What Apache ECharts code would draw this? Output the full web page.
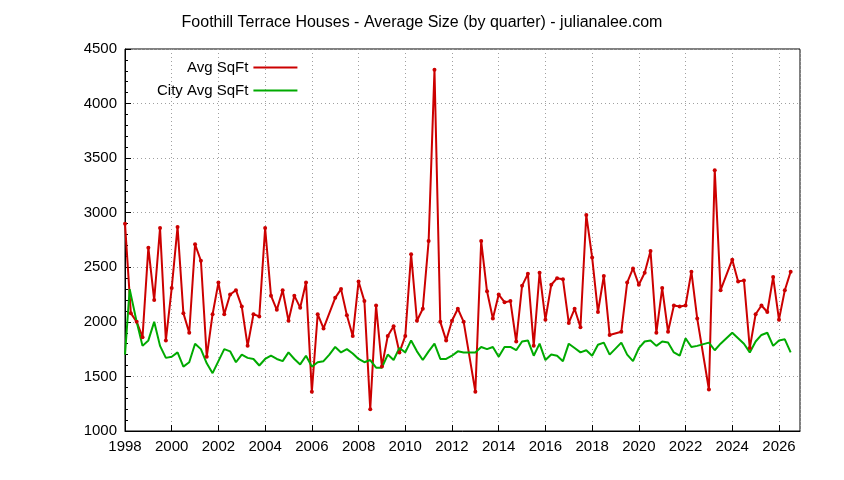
<!DOCTYPE html>
<html>
<head>
<meta charset="utf-8">
<title>Foothill Terrace Houses</title>
<script src="https://cdn.jsdelivr.net/npm/echarts@6/dist/echarts.min.js"></script>
<style>html,body{margin:0;background:#fff}#chart{width:844px;height:480px}</style>
</head>
<body>
<div id="chart"></div>
<script>
var avgSqft = [
[1998.0,2900],[1998.25,2080],[1998.5,2000],[1998.75,1860],[1999.0,2680],[1999.25,2200],[1999.5,2860],[1999.75,1830],
[2000.0,2310],[2000.25,2870],[2000.5,2080],[2000.75,1900],[2001.0,2710],[2001.25,2560],[2001.5,1680],[2001.75,2070],
[2002.0,2360],[2002.25,2070],[2002.5,2250],[2002.75,2290],[2003.0,2140],[2003.25,1780],[2003.5,2070],[2003.75,2050],
[2004.0,2860],[2004.25,2240],[2004.5,2110],[2004.75,2290],[2005.0,2010],[2005.25,2240],[2005.5,2130],[2005.75,2360],
[2006.0,1360],[2006.25,2070],[2006.5,1940],[2007.0,2220],[2007.25,2300],[2007.5,2060],[2007.75,1870],
[2008.0,2370],[2008.25,2190],[2008.5,1200],[2008.75,2150],[2009.0,1590],[2009.25,1870],[2009.5,1960],[2009.75,1720],
[2010.0,1870],[2010.25,2620],[2010.5,2010],[2010.75,2120],[2011.0,2740],[2011.25,4310],[2011.5,2000],[2011.75,1830],
[2012.0,2010],[2012.25,2120],[2012.5,2000],[2013.0,1360],[2013.25,2740],[2013.5,2280],[2013.75,2030],
[2014.0,2250],[2014.25,2180],[2014.5,2190],[2014.75,1820],[2015.0,2330],[2015.25,2440],[2015.5,1780],[2015.75,2450],
[2016.0,2020],[2016.25,2340],[2016.5,2400],[2016.75,2390],[2017.0,1990],[2017.25,2120],[2017.5,1950],[2017.75,2980],
[2018.0,2590],[2018.25,2090],[2018.5,2420],[2018.75,1880],[2019.25,1910],[2019.5,2360],[2019.75,2490],
[2020.0,2340],[2020.25,2450],[2020.5,2650],[2020.75,1900],[2021.0,2310],[2021.25,1910],[2021.5,2150],[2021.75,2140],
[2022.0,2150],[2022.25,2460],[2022.5,2030],[2023.0,1380],[2023.25,3390],[2023.5,2290],
[2024.0,2570],[2024.25,2370],[2024.5,2380],[2024.75,1760],[2025.0,2070],[2025.25,2150],[2025.5,2090],[2025.75,2410],
[2026.0,2020],[2026.25,2290],[2026.5,2460]
];
var cityAvgSqft = [
[1998.0,1700],[1998.2,2300],[1998.5,2000],[1998.75,1780],[1999.0,1830],[1999.25,2000],[1999.5,1780],[1999.75,1670],
[2000.0,1680],[2000.25,1720],[2000.5,1590],[2000.75,1630],[2001.0,1800],[2001.25,1750],[2001.5,1620],[2001.75,1530],
[2002.0,1640],[2002.25,1750],[2002.5,1730],[2002.75,1630],[2003.0,1700],[2003.25,1670],[2003.5,1660],[2003.75,1600],
[2004.0,1660],[2004.25,1690],[2004.5,1660],[2004.75,1640],[2005.0,1720],[2005.25,1660],[2005.5,1610],[2005.75,1690],
[2006.0,1590],[2006.25,1630],[2006.5,1640],[2006.75,1700],[2007.0,1770],[2007.25,1720],[2007.5,1750],[2007.75,1710],
[2008.0,1660],[2008.25,1630],[2008.5,1650],[2008.75,1580],[2009.0,1580],[2009.25,1700],[2009.5,1650],[2009.75,1760],
[2010.0,1720],[2010.25,1830],[2010.5,1730],[2010.75,1650],[2011.0,1730],[2011.25,1800],[2011.5,1660],[2011.75,1660],
[2012.0,1690],[2012.25,1730],[2012.5,1720],[2013.0,1720],[2013.25,1770],[2013.5,1750],[2013.75,1770],
[2014.0,1680],[2014.25,1770],[2014.5,1770],[2014.75,1740],[2015.0,1820],[2015.25,1830],[2015.5,1690],[2015.75,1800],
[2016.0,1650],[2016.25,1700],[2016.5,1690],[2016.75,1640],[2017.0,1800],[2017.25,1760],[2017.5,1720],[2017.75,1740],
[2018.0,1690],[2018.25,1790],[2018.5,1810],[2018.75,1700],[2019.25,1810],[2019.5,1700],[2019.75,1640],
[2020.0,1760],[2020.25,1820],[2020.5,1830],[2020.75,1780],[2021.0,1820],[2021.25,1810],[2021.5,1720],[2021.75,1690],
[2022.0,1850],[2022.25,1770],[2022.5,1780],[2023.0,1810],[2023.25,1740],[2023.5,1800],
[2024.0,1900],[2024.25,1850],[2024.5,1800],[2024.75,1720],[2025.0,1820],[2025.25,1880],[2025.5,1900],[2025.75,1780],
[2026.0,1830],[2026.25,1840],[2026.5,1720]
];

var chart = echarts.init(document.getElementById('chart'));
var font = 'Liberation Sans, Arial, sans-serif';
var gridLine = {show: true, lineStyle: {color: '#a0a0a0', type: [1, 3], width: 1}};
var plain = function (v) { return String(v); };
chart.setOption({
  animation: false,
  title: {
    text: 'Foothill Terrace Houses - Average Size (by quarter) - julianalee.com',
    left: 'center', top: 10,
    textStyle: {fontFamily: font, fontSize: 16, fontWeight: 'normal', color: '#000'}
  },
  legend: {
    orient: 'vertical', align: 'right', left: 152, top: 55, itemGap: 8,
    itemWidth: 44, itemHeight: 2, icon: 'rect',
    textStyle: {fontFamily: font, fontSize: 15, color: '#000'},
    data: ['Avg SqFt', 'City Avg SqFt']
  },
  grid: {left: 125, right: 44, top: 49, bottom: 49, show: true, borderColor: '#000', borderWidth: 1},
  xAxis: {
    type: 'value', min: 1998, max: 2026.9, interval: 2,
    axisLine: {lineStyle: {color: '#000'}},
    axisTick: {inside: true, length: 6, lineStyle: {color: '#000'}},
    axisLabel: {color: '#000', fontFamily: font, fontSize: 15, margin: 8, showMaxLabel: false, formatter: plain},
    splitLine: gridLine
  },
  yAxis: {
    type: 'value', min: 1000, max: 4500, interval: 500,
    axisLine: {show: true, lineStyle: {color: '#000'}},
    axisTick: {inside: true, length: 6, lineStyle: {color: '#000'}},
    minorTick: {show: true, splitNumber: 5, length: 3, lineStyle: {color: '#000'}},
    axisLabel: {color: '#000', fontFamily: font, fontSize: 15, margin: 8, formatter: plain},
    splitLine: gridLine
  },
  series: [
    {
      name: 'Avg SqFt', type: 'line', data: avgSqft,
      symbol: 'circle', symbolSize: 4,
      itemStyle: {color: '#cc0000'},
      lineStyle: {color: '#cc0000', width: 2}
    },
    {
      name: 'City Avg SqFt', type: 'line', data: cityAvgSqft,
      symbol: 'none',
      itemStyle: {color: '#00aa00'},
      lineStyle: {color: '#00aa00', width: 2}
    }
  ]
});
</script>
</body>
</html>
